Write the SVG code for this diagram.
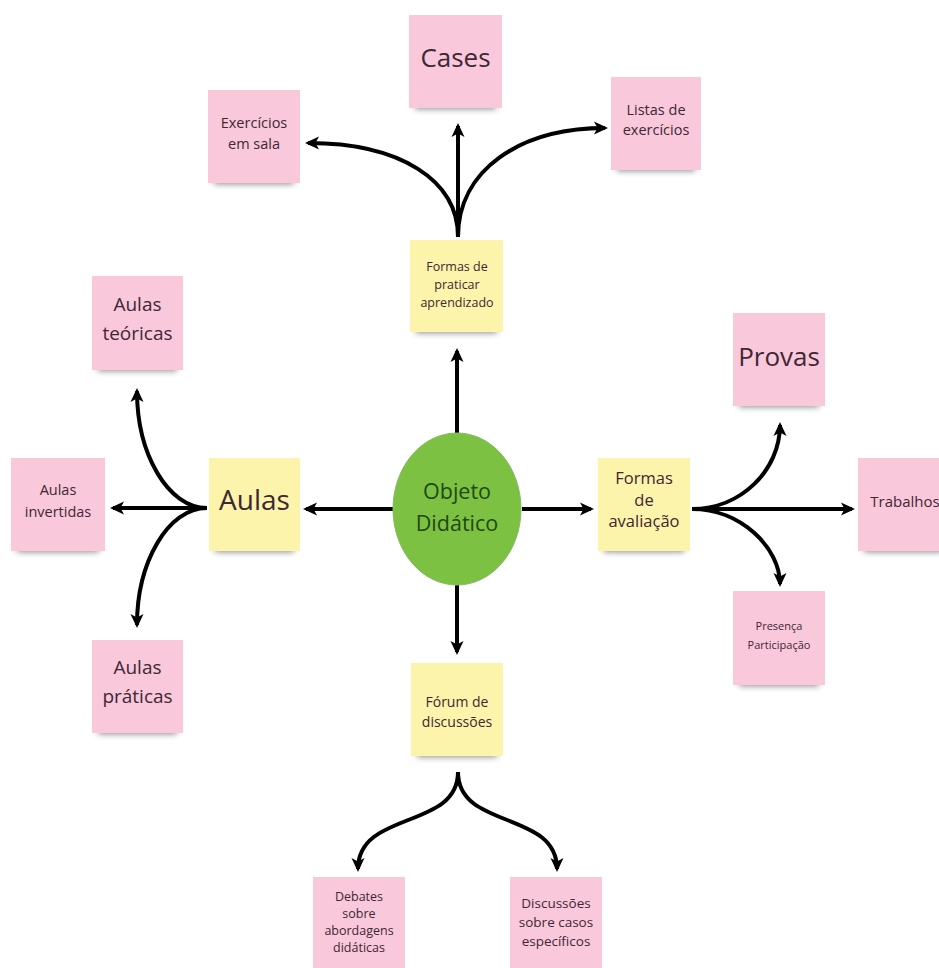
<svg xmlns="http://www.w3.org/2000/svg" width="939" height="968" viewBox="0 0 939 968">
  <style>
    .note-pink { fill: #f9c8db; }
    .note-yellow { fill: #fbf4aa; }
    .shadow { fill: #000; opacity: 0.45; filter: url(#soft); }
    .lbl { font-family: "Open Sans", "Noto Sans", "Liberation Sans", sans-serif; fill: #3f2733; text-anchor: middle; }
    .edge { fill: none; stroke: #000; stroke-width: 4; marker-end: url(#arr); }
  </style>
  <defs>
    <filter id="soft" x="-20%" y="-100%" width="140%" height="300%">
      <feGaussianBlur stdDeviation="3"/>
    </filter>
    <marker id="arr" viewBox="0 0 14 14" refX="11" refY="7" markerWidth="14" markerHeight="14" markerUnits="userSpaceOnUse" orient="auto">
      <path d="M0,0.5 L14,7 L0,13.5 L3.5,7 Z" fill="#000"/>
    </marker>
  </defs>

  <rect width="939" height="968" fill="#ffffff"/>

  <!-- connectors -->
  <g id="connectors">
    <!-- centre outwards -->
    <path class="edge" d="M457,433 L457,351"/>
    <path class="edge" d="M393,509 L306,509"/>
    <path class="edge" d="M522,509 L591,509"/>
    <path class="edge" d="M457,585 L457,652"/>
    <!-- practice branch -->
    <path class="edge" d="M458,237 L458,126"/>
    <path class="edge" d="M458,237 C458,180 400,143 308,143"/>
    <path class="edge" d="M458,237 C458,170 520,128 605,128"/>
    <!-- lectures branch -->
    <path class="edge" d="M207,508 L113,508"/>
    <path class="edge" d="M207,508 C168,508 137,454 137,391"/>
    <path class="edge" d="M207,508 C168,508 137,562 137,625"/>
    <!-- assessment branch -->
    <path class="edge" d="M692,509 L852,509"/>
    <path class="edge" d="M692,509 C741,509 780,470 780,425"/>
    <path class="edge" d="M692,509 C741,509 780,548 780,584"/>
    <!-- forum branch -->
    <path class="edge" d="M458,772 C458,830 358,810 358,869"/>
    <path class="edge" d="M458,772 C458,830 557,810 557,869"/>
  </g>

  <!-- central node -->
  <g id="objeto-didatico">
    <ellipse cx="457" cy="509" rx="64" ry="76" fill="#7cc142" stroke="#86b866" stroke-width="1"/>
    <text class="lbl" x="457" y="499" font-size="21.5" style="fill:#1c4a12">Objeto</text>
    <text class="lbl" x="457" y="531" font-size="21.5" style="fill:#1c4a12">Didático</text>
  </g>

  <g id="formas-praticar">
    <rect class="shadow" x="416" y="325" width="81" height="8"/>
    <rect class="note-yellow" x="410" y="240" width="93" height="92"/>
    <text class="lbl" x="457" y="271" font-size="12.5">Formas de</text>
    <text class="lbl" x="457" y="289" font-size="12.5">praticar</text>
    <text class="lbl" x="457" y="307" font-size="12.5">aprendizado</text>
  </g>

  <g id="cases">
    <rect class="shadow" x="415" y="101" width="81" height="8"/>
    <rect class="note-pink" x="409" y="15" width="93" height="93"/>
    <text class="lbl" x="455.5" y="67" font-size="26">Cases</text>
  </g>

  <g id="exercicios-sala">
    <rect class="shadow" x="214" y="176" width="80" height="8"/>
    <rect class="note-pink" x="208" y="90" width="92" height="93"/>
    <text class="lbl" x="254" y="128" font-size="14.5">Exercícios</text>
    <text class="lbl" x="254" y="149" font-size="14.5">em sala</text>
  </g>

  <g id="listas-exercicios">
    <rect class="shadow" x="617" y="163" width="78" height="8"/>
    <rect class="note-pink" x="611" y="77" width="90" height="93"/>
    <text class="lbl" x="656" y="115" font-size="14.5">Listas de</text>
    <text class="lbl" x="656" y="135" font-size="14.5">exercícios</text>
  </g>

  <g id="aulas">
    <rect class="shadow" x="215" y="544" width="79" height="8"/>
    <rect class="note-yellow" x="209" y="458" width="91" height="93"/>
    <text class="lbl" x="254.5" y="510" font-size="28">Aulas</text>
  </g>

  <g id="aulas-teoricas">
    <rect class="shadow" x="98" y="363" width="79" height="8"/>
    <rect class="note-pink" x="92" y="276" width="91" height="94"/>
    <text class="lbl" x="137.5" y="311" font-size="19">Aulas</text>
    <text class="lbl" x="137.5" y="340" font-size="19">teóricas</text>
  </g>

  <g id="aulas-invertidas">
    <rect class="shadow" x="17" y="544" width="82" height="8"/>
    <rect class="note-pink" x="11" y="458" width="94" height="93"/>
    <text class="lbl" x="58" y="495" font-size="14.5">Aulas</text>
    <text class="lbl" x="58" y="517" font-size="14.5">invertidas</text>
  </g>

  <g id="aulas-praticas">
    <rect class="shadow" x="98" y="726" width="79" height="8"/>
    <rect class="note-pink" x="92" y="640" width="91" height="93"/>
    <text class="lbl" x="137.5" y="674" font-size="19">Aulas</text>
    <text class="lbl" x="137.5" y="703" font-size="19">práticas</text>
  </g>

  <g id="formas-avaliacao">
    <rect class="shadow" x="604" y="544" width="80" height="8"/>
    <rect class="note-yellow" x="598" y="458" width="92" height="93"/>
    <text class="lbl" x="644" y="484" font-size="16.5">Formas</text>
    <text class="lbl" x="644" y="506" font-size="16.5">de</text>
    <text class="lbl" x="644" y="527" font-size="16.5">avaliação</text>
  </g>

  <g id="provas">
    <rect class="shadow" x="739" y="399" width="80" height="8"/>
    <rect class="note-pink" x="733" y="313" width="92" height="93"/>
    <text class="lbl" x="779" y="366" font-size="26">Provas</text>
  </g>

  <g id="trabalhos">
    <rect class="shadow" x="864" y="544" width="80" height="8"/>
    <rect class="note-pink" x="858" y="458" width="92" height="93"/>
    <text class="lbl" x="905" y="507" font-size="15">Trabalhos</text>
  </g>

  <g id="presenca-participacao">
    <rect class="shadow" x="739" y="678" width="80" height="8"/>
    <rect class="note-pink" x="733" y="591" width="92" height="94"/>
    <text class="lbl" x="779" y="630" font-size="11">Presença</text>
    <text class="lbl" x="779" y="649" font-size="11">Participação</text>
  </g>

  <g id="forum-discussoes">
    <rect class="shadow" x="417" y="749" width="80" height="8"/>
    <rect class="note-yellow" x="411" y="663" width="92" height="93"/>
    <text class="lbl" x="457" y="707" font-size="14">Fórum de</text>
    <text class="lbl" x="457" y="727" font-size="14">discussões</text>
  </g>

  <g id="debates">
    <rect class="note-pink" x="313" y="877" width="92" height="93"/>
    <text class="lbl" x="359" y="901" font-size="12.5">Debates</text>
    <text class="lbl" x="359" y="918" font-size="12.5">sobre</text>
    <text class="lbl" x="359" y="935" font-size="12.5">abordagens</text>
    <text class="lbl" x="359" y="952" font-size="12.5">didáticas</text>
  </g>

  <g id="discussoes-casos">
    <rect class="note-pink" x="510" y="877" width="92" height="93"/>
    <text class="lbl" x="556" y="908" font-size="13.5">Discussões</text>
    <text class="lbl" x="556" y="927" font-size="13.5">sobre casos</text>
    <text class="lbl" x="556" y="946" font-size="13.5">específicos</text>
  </g>
</svg>
